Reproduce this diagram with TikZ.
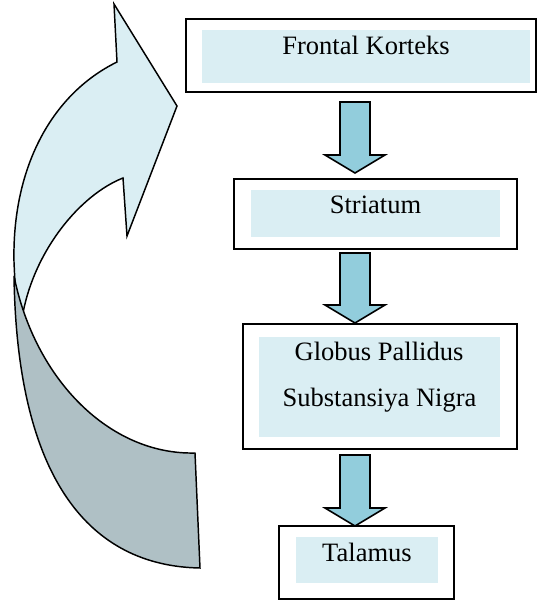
\documentclass[tikz,border=0pt]{standalone}
\usepackage{fontspec}
\setmainfont{Liberation Serif}
\usetikzlibrary{calc}
\definecolor{paleaqua}{HTML}{DAEEF3}
\definecolor{aqua}{HTML}{92CDDC}
\definecolor{slate}{HTML}{AFC0C5}
% block arrow between two boxes: from, to, top gap, tip gap (px)
\newcommand{\flowarrow}[4]{%
  \draw[flow] ($(340,0 |- #1.south)+(0,#3)$) -- ($(340,0 |- #2.north)+(0,-18-#4)$)
    -- ($(325,0 |- #2.north)+(0,-18-#4)$) -- ($(355,0 |- #2.north)+(0,-#4)$)
    -- ($(385,0 |- #2.north)+(0,-18-#4)$) -- ($(370,0 |- #2.north)+(0,-18-#4)$)
    -- ($(370,0 |- #1.south)+(0,#3)$) -- cycle;}

\begin{document}
\begin{tikzpicture}[x=0.75pt, y=-0.75pt,
  frame/.style={rectangle, draw, line width=1.5pt, outer sep=0pt, inner sep=0pt},
  inner/.style={rectangle, fill=paleaqua, outer sep=0pt, inner sep=0pt},
  txt/.style={anchor=base, inner sep=0pt, font=\fontsize{19.9pt}{24pt}\selectfont},
  flow/.style={fill=aqua, draw, line width=1.2pt, line join=miter},
  front/.style={fill=paleaqua, draw, line width=1.1pt, line join=miter},
  back/.style={fill=slate, draw, line width=1.1pt, line join=miter}
]
\useasboundingbox (0,0) rectangle (538,603);
% curved arrow on the left
\filldraw[front] (23,313) -- (16,305) -- (14,262) .. controls (12,170) and (50,95) .. (117,62)
  -- (114,4) -- (177,106) -- (127,236) -- (123,178) .. controls (80,195) and (35,250) .. (23,313) -- cycle;
\filldraw[back] (14,276) .. controls (17,480) and (90,566) .. (200,568) -- (195,453)
  .. controls (110,455) and (35,380) .. (14,276) -- cycle;
% boxes
\node[frame, minimum width=262.5pt, minimum height=54.75pt] (fk) at (361,55.5) {};
\node[inner, minimum width=246pt, minimum height=39.75pt] (fkin) at (366,56.5) {};
\node[txt] (fktext) at (366,54) {Frontal Korteks};
\node[frame, minimum width=212.25pt, minimum height=52.5pt] (st) at (375.5,214) {};
\node[inner, minimum width=186.75pt, minimum height=35.25pt] (stin) at (375.5,213.5) {};
\node[txt] (sttext) at (375.5,213) {Striatum};
\node[frame, minimum width=205.5pt, minimum height=93.75pt] (gp) at (380,386.5) {};
\node[inner, minimum width=180.75pt, minimum height=75pt] (gpin) at (379.5,387) {};
\node[txt] (gptext) at (379,360) {Globus Pallidus};
\node[txt] (sntext) at (379.5,406) {Substansiya Nigra};
\node[frame, minimum width=131.25pt, minimum height=54.75pt] (ta) at (366.5,562.5) {};
\node[inner, minimum width=106.5pt, minimum height=34.5pt] (tain) at (367,560) {};
\node[txt] (tatext) at (367,561) {Talamus};
% arrows down
\flowarrow{fk}{st}{10}{6}
\flowarrow{st}{gp}{4}{1}
\flowarrow{gp}{ta}{6}{0}
\end{tikzpicture}
\end{document}
